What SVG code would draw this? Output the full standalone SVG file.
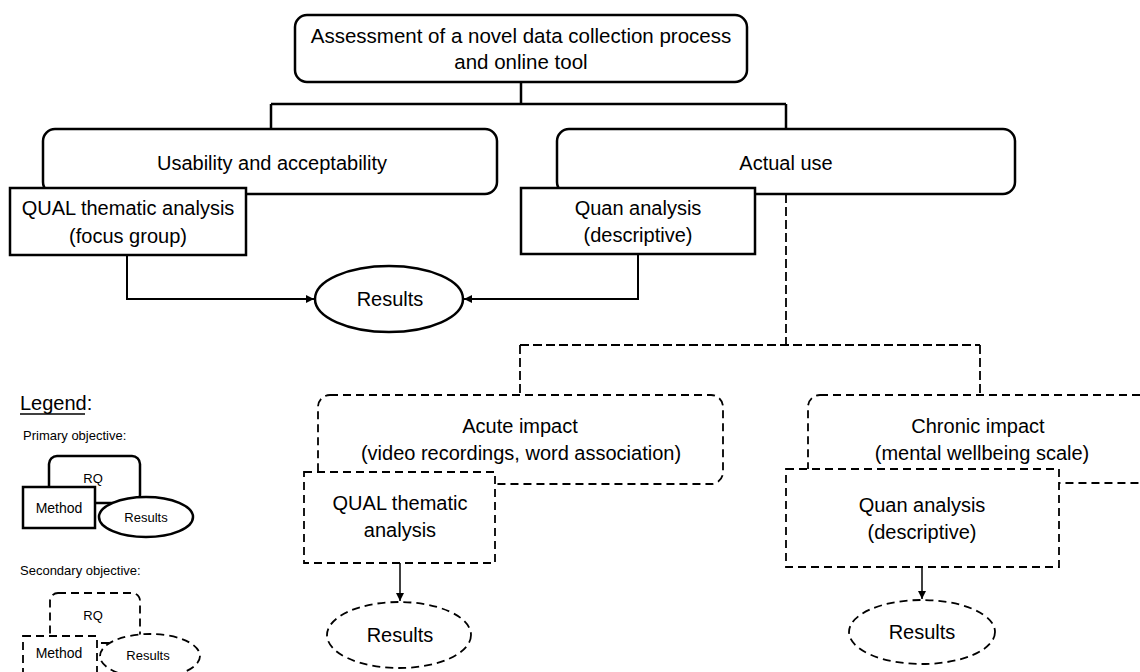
<svg xmlns="http://www.w3.org/2000/svg" width="1140" height="672" viewBox="0 0 1140 672">
<defs>
<style>
text{font-family:"Liberation Sans",Arial,sans-serif;fill:#000;text-anchor:middle}
.t{font-size:20px}
.s{font-size:13px}
.m{font-size:14px}
.box{fill:#fff;stroke:#000;stroke-width:2.5}
.dbox{fill:#fff;stroke:#000;stroke-width:1.8;stroke-dasharray:8 5}
.ln{fill:none;stroke:#000;stroke-width:2.5}
.dl{fill:none;stroke:#000;stroke-width:1.8;stroke-dasharray:9 4}
.ar{fill:none;stroke:#000;stroke-width:2}
.ar1{fill:none;stroke:#000;stroke-width:1.5}
</style>
<marker id="ah" viewBox="0 0 10 10" refX="10" refY="5" markerWidth="8" markerHeight="8" markerUnits="userSpaceOnUse" orient="auto">
<path d="M0,0 L10,5 L0,10 z" fill="#000"/>
</marker>
</defs>
<rect width="1140" height="672" fill="#fff"/>

<g id="connectors">
<path class="ln" d="M521,82 V104 M271,104 H786 M271,104 V129 M786,104 V129"/>
<path class="ar" d="M127,255 V299 H314" marker-end="url(#ah)"/>
<path class="ar" d="M638,254 V299 H464" marker-end="url(#ah)"/>
<path class="dl" d="M786,194 V345 M520,345 H980 M520,345 V395 M980,345 V395"/>
<path class="ar1" d="M400,563 V601" marker-end="url(#ah)"/>
<path class="ar1" d="M922,567 V599" marker-end="url(#ah)"/>
</g>

<g id="assessment">
<rect class="box" x="295" y="15" width="452" height="67" rx="12"/>
<text x="521" y="43" style="font-size:20.5px">Assessment of a novel data collection process</text>
<text x="521" y="69" style="font-size:20.5px">and online tool</text>
</g>

<g id="usability">
<rect class="box" x="43" y="129" width="454" height="65" rx="12"/>
<text class="t" x="272" y="170">Usability and acceptability</text>
</g>
<g id="qual-focus">
<rect class="box" x="10" y="188" width="236" height="67"/>
<text class="t" x="128" y="215">QUAL thematic analysis</text>
<text class="t" x="128" y="243">(focus group)</text>
</g>

<g id="actual-use">
<rect class="box" x="557" y="129" width="458" height="65" rx="12"/>
<text class="t" x="786" y="170">Actual use</text>
</g>
<g id="quan-primary">
<rect class="box" x="521" y="188" width="234" height="66"/>
<text class="t" x="638" y="215">Quan analysis</text>
<text class="t" x="638" y="242">(descriptive)</text>
</g>

<g id="results-primary">
<ellipse class="box" cx="389" cy="299" rx="74" ry="33"/>
<text class="t" x="390" y="306">Results</text>
</g>

<g id="acute">
<rect class="dbox" x="318" y="395" width="405" height="89" rx="12"/>
<text class="t" x="520" y="433">Acute impact</text>
<text class="t" x="521" y="460">(video recordings, word association)</text>
</g>
<g id="qual-acute">
<rect class="dbox" x="304" y="472" width="191" height="91"/>
<text class="t" x="400" y="510">QUAL thematic</text>
<text class="t" x="400" y="537">analysis</text>
</g>
<g id="results-acute">
<ellipse class="dbox" cx="399" cy="635" rx="72" ry="33"/>
<text class="t" x="400" y="642">Results</text>
</g>

<g id="chronic">
<rect class="dbox" x="808" y="395" width="360" height="88" rx="12"/>
<text class="t" x="978" y="433">Chronic impact</text>
<text class="t" x="982" y="460">(mental wellbeing scale)</text>
</g>
<g id="quan-chronic">
<rect class="dbox" x="786" y="469" width="273" height="98"/>
<text class="t" x="922" y="512">Quan analysis</text>
<text class="t" x="922" y="539">(descriptive)</text>
</g>
<g id="results-chronic">
<ellipse class="dbox" cx="922" cy="632" rx="73" ry="32"/>
<text class="t" x="922" y="639">Results</text>
</g>

<g id="legend">
<text x="20" y="410" style="font-size:20px;text-anchor:start">Legend:</text>
<line x1="20" y1="414" x2="85" y2="414" stroke="#000" stroke-width="1.5"/>
<text class="s" x="23" y="440" style="text-anchor:start">Primary objective:</text>
<rect class="box" x="49" y="456" width="91" height="47" rx="8"/>
<text class="s" x="93" y="483">RQ</text>
<rect class="box" x="23" y="487" width="72" height="41"/>
<text class="m" x="59" y="513">Method</text>
<ellipse class="box" cx="146" cy="517" rx="47" ry="20"/>
<text class="s" x="146" y="522">Results</text>
<text class="s" x="20" y="575" style="text-anchor:start">Secondary objective:</text>
<rect class="dbox" x="50" y="593" width="90" height="50" rx="8"/>
<text class="s" x="93" y="620">RQ</text>
<rect class="dbox" x="23" y="636" width="74" height="50"/>
<text class="m" x="59" y="658">Method</text>
<ellipse class="dbox" cx="150" cy="656" rx="50" ry="22"/>
<text class="s" x="148" y="660">Results</text>
</g>
</svg>
